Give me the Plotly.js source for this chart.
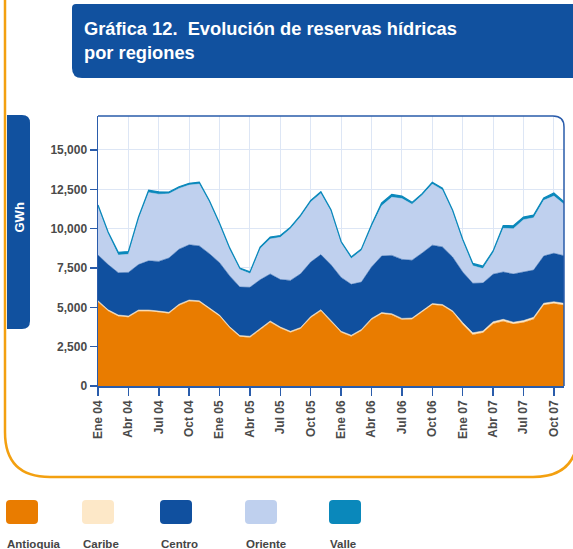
<!DOCTYPE html>
<html>
<head>
<meta charset="utf-8">
<script src="https://cdn.plot.ly/plotly-3.0.1.min.js"></script>
<style>
  html, body { margin: 0; padding: 0; background: #fff; }
  #chart { width: 573px; height: 549px; }
</style>
</head>
<body>
<div id="chart"></div>
<script>
// months, Ene 04 .. Nov 07
var months = ['Ene 04','Feb 04','Mar 04','Abr 04','May 04','Jun 04','Jul 04','Ago 04','Sep 04','Oct 04','Nov 04','Dic 04',
	'Ene 05','Feb 05','Mar 05','Abr 05','May 05','Jun 05','Jul 05','Ago 05','Sep 05','Oct 05','Nov 05','Dic 05',
	'Ene 06','Feb 06','Mar 06','Abr 06','May 06','Jun 06','Jul 06','Ago 06','Sep 06','Oct 06','Nov 06','Dic 06',
	'Ene 07','Feb 07','Mar 07','Abr 07','May 07','Jun 07','Jul 07','Ago 07','Sep 07','Oct 07','Nov 07'];

// reserves by region (GWh)
var antioquia = [5342,4763,4433,4369,4751,4751,4681,4604,5119,5386,5335,4884,
	4426,3683,3123,3085,3594,4051,3670,3397,3638,4337,4770,4077,
	3397,3149,3511,4217,4585,4515,4217,4242,4687,5157,5100,4700,
	3910,3261,3382,3961,4119,3935,4037,4247,5143,5238,5136];
var caribe = [80,80,80,80,80,80,80,80,80,80,80,80,
	80,80,80,80,80,80,80,80,80,80,80,80,
	80,80,80,80,80,80,80,80,80,80,80,80,
	120,120,120,120,120,120,120,120,120,120,120];
var centro = [2904,2873,2688,2771,2885,3127,3159,3452,3496,3509,3490,3445,
	3331,3235,3089,3108,3076,2988,3019,3235,3413,3464,3500,3546,
	3426,3235,3013,3267,3598,3706,3750,3674,3686,3712,3661,3420,
	3216,3147,3045,3025,3007,3064,3089,3000,3000,3077,3026];
var oriente = [3068,1962,1117,1149,2916,4337,4273,4075,3862,3795,3935,3269,
	2411,1680,1108,877,1972,2231,2677,3281,3625,3819,3890,3397,
	2181,1642,2004,2552,3188,3691,3867,3554,3666,3891,3621,2887,
	1978,1115,918,1361,2775,2883,3326,3325,3536,3638,3272];
var valle = [110,110,180,180,110,150,150,120,110,110,110,100,
	100,100,100,100,100,120,120,100,100,100,110,100,
	100,100,100,130,180,180,150,120,110,110,110,100,
	100,150,150,120,180,180,170,170,150,200,160];

var regions = ['Antioquia','Caribe','Centro','Oriente','Valle'];
var colors = ['#e97c00','#fde8c8','#10509f','#bfd0ee','#0a88bb'];
var series = [antioquia, caribe, centro, oriente, valle];

var tickMonths = months.filter(function (m, i) { return i % 3 == 0; });

var font = 'Liberation Sans, Arial, sans-serif';

// plot area in pixels, used to place the decorations
var L = 98, R = 564, T = 116, B = 386;
function px(x) { return (x - L) / (R - L); }
function py(y) { return (B - y) / (B - T); }
function pt(x, y) { return px(x) + ',' + py(y); }

var data = [];
for (var i = 0; i < series.length; i++) {
	data.push({
		x: months,
		y: series[i],
		name: regions[i],
		type: 'scatter',
		mode: 'lines',
		stackgroup: 'one',
		fillcolor: colors[i],
		line: {color: i == 4 ? '#0a88bb' : colors[i], width: i == 4 ? 1.2 : 0.5},
		hoverinfo: 'x+y+name'
	});
}

var shapes = [];
var annotations = [];

// orange outer frame
shapes.push({
	type: 'path', xref: 'paper', yref: 'paper', layer: 'below',
	path: 'M' + pt(5, -10) + ' L' + pt(5, 432) + ' Q' + pt(5, 477) + ' ' + pt(50, 477) +
		' L' + pt(533, 477) + ' Q' + pt(578, 477) + ' ' + pt(578, 432),
	line: {color: '#f3a010', width: 2.5}
});

// title box
shapes.push({
	type: 'path', xref: 'paper', yref: 'paper',
	path: 'M' + pt(76, 4) + ' L' + pt(590, 4) + ' L' + pt(590, 78) + ' L' + pt(82, 78) +
		' Q' + pt(72, 78) + ' ' + pt(72, 68) + ' L' + pt(72, 8) + ' Q' + pt(72, 4) + ' ' + pt(76, 4) + ' Z',
	fillcolor: '#11519f', line: {width: 0}
});
annotations.push({
	xref: 'paper', yref: 'paper', x: px(82), y: py(16), xanchor: 'left', yanchor: 'top',
	align: 'left', showarrow: false,
	text: 'Gráfica 12.  Evolución de reservas hídricas<br>por regiones',
	font: {family: font, size: 18.3, color: '#ffffff', weight: 'bold'}
});

// GWh box
shapes.push({
	type: 'path', xref: 'paper', yref: 'paper',
	path: 'M' + pt(7, 115) + ' L' + pt(22, 115) + ' Q' + pt(30, 115) + ' ' + pt(30, 123) +
		' L' + pt(30, 321) + ' Q' + pt(30, 329) + ' ' + pt(22, 329) + ' L' + pt(7, 329) + ' Z',
	fillcolor: '#11519f', line: {width: 0}
});
annotations.push({
	xref: 'paper', yref: 'paper', x: px(18.5), y: py(218), xanchor: 'center', yanchor: 'middle',
	showarrow: false, textangle: -90, text: 'GWh',
	font: {family: font, size: 13, color: '#ffffff', weight: 'bold'}
});

// top and right edge of the plot frame, rounded corner
shapes.push({
	type: 'path', xref: 'paper', yref: 'paper', layer: 'above',
	path: 'M' + pt(98, 116) + ' L' + pt(553, 116) + ' Q' + pt(564, 116) + ' ' + pt(564, 127) + ' L' + pt(564, 386),
	line: {color: '#2a5cab', width: 1.5}
});

// legend: rounded swatches with names below
var legX = [6, 82, 160, 245, 329];
for (var k = 0; k < regions.length; k++) {
	var x0 = legX[k], x1 = legX[k] + 32, y0 = 500, y1 = 524, r = 4;
	shapes.push({
		type: 'path', xref: 'paper', yref: 'paper',
		path: 'M' + pt(x0 + r, y0) + ' L' + pt(x1 - r, y0) + ' Q' + pt(x1, y0) + ' ' + pt(x1, y0 + r) +
			' L' + pt(x1, y1 - r) + ' Q' + pt(x1, y1) + ' ' + pt(x1 - r, y1) +
			' L' + pt(x0 + r, y1) + ' Q' + pt(x0, y1) + ' ' + pt(x0, y1 - r) +
			' L' + pt(x0, y0 + r) + ' Q' + pt(x0, y0) + ' ' + pt(x0 + r, y0) + ' Z',
		fillcolor: colors[k], line: {width: 0}
	});
	annotations.push({
		xref: 'paper', yref: 'paper', x: px(x0 - 1), y: py(536), xanchor: 'left', yanchor: 'top',
		showarrow: false, text: regions[k],
		font: {family: font, size: 11.5, color: '#454545', weight: 'bold'}
	});
}

var layout = {
	width: 573,
	height: 549,
	margin: {l: L, r: 573 - R, t: T, b: 549 - B, pad: 0},
	paper_bgcolor: '#ffffff',
	plot_bgcolor: '#ffffff',
	showlegend: false,
	font: {family: font},
	xaxis: {
		type: 'category',
		range: [0, months.length - 1],
		tickvals: tickMonths,
		ticktext: tickMonths,
		tickangle: -90,
		ticks: 'outside',
		ticklen: 8,
		tickcolor: '#2a5cab',
		tickwidth: 1.5,
		showline: true,
		linecolor: '#2a5cab',
		linewidth: 1.5,
		showgrid: true,
		gridcolor: '#dde6f5',
		gridwidth: 1,
		zeroline: false,
		tickfont: {family: font, size: 12, color: '#4a4a4a', weight: 'bold'}
	},
	yaxis: {
		range: [0, 17160],
		dtick: 2500,
		tickformat: ',d',
		ticks: 'outside',
		ticklen: 7,
		tickcolor: '#2a5cab',
		tickwidth: 1.5,
		showline: true,
		linecolor: '#2a5cab',
		linewidth: 1.5,
		showgrid: true,
		gridcolor: '#dde6f5',
		gridwidth: 1,
		zeroline: false,
		tickfont: {family: font, size: 12, color: '#4a4a4a', weight: 'bold'}
	},
	shapes: shapes,
	annotations: annotations
};

Plotly.newPlot('chart', data, layout, {displayModeBar: false, staticPlot: true});
</script>
</body>
</html>
